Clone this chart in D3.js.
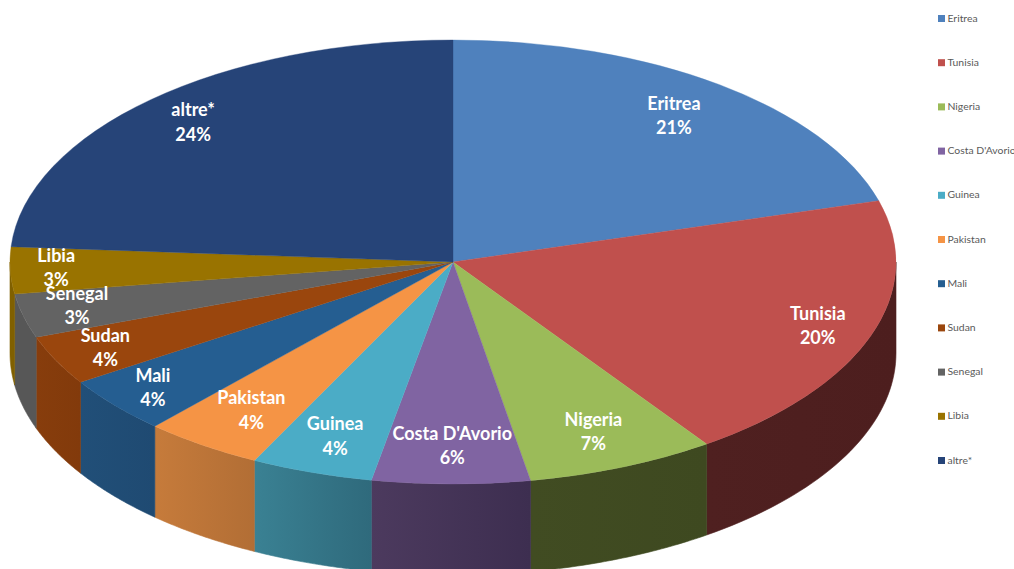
<!DOCTYPE html>
<html>
<head>
<meta charset="utf-8">
<script src="https://cdnjs.cloudflare.com/ajax/libs/d3/7.8.5/d3.min.js"></script>
<style>
  html, body { margin: 0; padding: 0; background: #fff; overflow: hidden; }
  svg { display: block; font-family: Lato, sans-serif; }
</style>
</head>
<body>
<script>
var categories = ['Eritrea', 'Tunisia', 'Nigeria', "Costa D'Avorio", 'Guinea', 'Pakistan', 'Mali', 'Sudan', 'Senegal', 'Libia', 'altre*'];
var shares = [20.55, 19.75, 6.9, 5.75, 4.45, 4.35, 4.15, 3.6, 3.2, 3.4, 23.9];
var topColors = ['#4f81bd', '#c0504d', '#9bbb59', '#8064a2', '#4bacc6', '#f59445', '#255e91', '#9a460d', '#636363', '#997300', '#264478'];
var wallFrom = ['#3b5f8c', '#4f2020', '#414c22', '#4c3a5e', '#3a8193', '#c67b3b', '#214f78', '#873d0c', '#575757', '#806000', '#1c3359'];
var wallTo = ['#3b5f8c', '#4d1e1e', '#3e4920', '#3d2e50', '#2f6a7c', '#b26e35', '#1f4a72', '#823a0b', '#575757', '#806000', '#1c3359'];

// hand nudges, the labels don't sit on a regular radius in the original
var labelNudge = {
  'Eritrea': [-3, 3], 'Tunisia': [14, 2], 'Nigeria': [-2, -2], "Costa D'Avorio": [1, -2],
  'Guinea': [1, -2], 'Pakistan': [9, -5], 'Mali': [-16, 6], 'Sudan': [-14, 3.5],
  'Senegal': [-15, -1], 'Libia': [-25, -1], 'altre*': [-6, -3]
};

var width = 1014, height = 569;
var cx = 453, cy = 262, rx = 443, ry = 222, depth = 91;

var svg = d3.select('body').append('svg')
  .attr('width', width)
  .attr('height', height);

var slices = d3.pie().sort(null).value(function(d, i) { return shares[i]; })(categories);

function px(a, r) { return cx + (r === undefined ? rx : r) * Math.sin(a); }
function py(a, r) { return cy - (r === undefined ? ry : r) * Math.cos(a); }

var defs = svg.append('defs');
slices.forEach(function(s, i) {
  var g = defs.append('linearGradient').attr('id', 'wall' + i);
  g.append('stop').attr('offset', 0).attr('stop-color', wallFrom[i]);
  g.append('stop').attr('offset', 1).attr('stop-color', wallTo[i]);
});

// side walls, only the part of the rim facing the viewer
var line = d3.line();
function wallPath(s) {
  var a0 = Math.max(s.startAngle, Math.PI / 2);
  var a1 = Math.min(s.endAngle, Math.PI * 1.5);
  if (a1 <= a0) return null;
  var steps = d3.range(0, 41).map(function(k) { return a0 + (a1 - a0) * k / 40; });
  var upper = steps.map(function(a) { return [px(a), py(a)]; });
  var lower = steps.slice().reverse().map(function(a) { return [px(a), py(a) + depth]; });
  return line(upper.concat(lower)) + 'Z';
}

svg.append('g').selectAll('path')
  .data(slices.filter(function(s) { return wallPath(s); }))
  .enter().append('path')
  .attr('d', wallPath)
  .attr('fill', function(d) { return 'url(#wall' + d.index + ')'; })
  .attr('stroke', function(d) { return 'url(#wall' + d.index + ')'; })
  .attr('stroke-width', 0.6);

// top face: a circular pie squashed into an ellipse
var arc = d3.arc().innerRadius(0).outerRadius(rx);
svg.append('g')
  .attr('transform', 'translate(' + cx + ',' + cy + ') scale(1,' + (ry / rx) + ')')
  .selectAll('path')
  .data(slices)
  .enter().append('path')
  .attr('d', arc)
  .attr('fill', function(d) { return topColors[d.index]; })
  .attr('stroke', function(d) { return topColors[d.index]; })
  .attr('stroke-width', 0.5);

// data labels
var labels = svg.append('g')
  .attr('fill', '#fff')
  .attr('font-size', 18)
  .attr('font-weight', 700)
  .attr('text-anchor', 'middle')
  .selectAll('text')
  .data(slices)
  .enter().append('text')
  .attr('transform', function(d) {
    var mid = (d.startAngle + d.endAngle) / 2;
    var n = labelNudge[d.data];
    return 'translate(' + (px(mid, rx * 0.84) + n[0]) + ',' + (py(mid, ry * 0.84) + n[1]) + ')';
  });
labels.append('tspan').attr('x', 0).attr('y', -6.5).text(function(d) { return d.data; });
labels.append('tspan').attr('x', 0).attr('y', 18).text(function(d) { return Math.round(d.value) + '%'; });

// legend
var legendY = d3.scalePoint().domain(categories).range([18, 460]);
var legend = svg.append('g').selectAll('g')
  .data(categories)
  .enter().append('g')
  .attr('transform', function(d) { return 'translate(938,' + legendY(d) + ')'; });
legend.append('rect')
  .attr('y', -3)
  .attr('width', 7)
  .attr('height', 7)
  .attr('fill', function(d, i) { return topColors[i]; });
legend.append('text')
  .attr('x', 9.5)
  .attr('y', 3.5)
  .attr('font-size', 10.4)
  .attr('fill', '#595959')
  .text(function(d) { return d; });
</script>
</body>
</html>
